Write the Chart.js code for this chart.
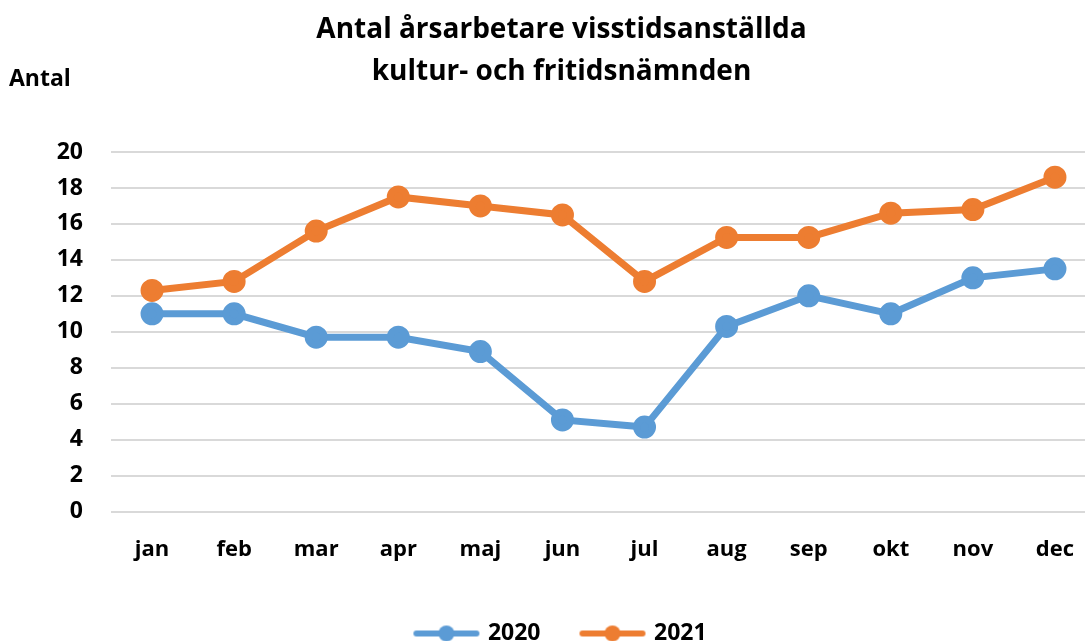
<!DOCTYPE html>
<html>
<head>
<meta charset="utf-8">
<script src="https://cdn.jsdelivr.net/npm/chart.js@4/dist/chart.umd.min.js"></script>
<style>
  html, body { margin: 0; padding: 0; background: #fff; overflow: hidden; }
</style>
</head>
<body>
<canvas id="chart" width="1111" height="641"></canvas>
<script>
const months = ["jan", "feb", "mar", "apr", "maj", "jun", "jul", "aug", "sep", "okt", "nov", "dec"];
const values2020 = [11, 11, 9.7, 9.7, 8.9, 5.1, 4.7, 10.3, 12, 11, 13, 13.5];
const values2021 = [12.3, 12.8, 15.6, 17.5, 17, 16.5, 12.8, 15.25, 15.25, 16.6, 16.8, 18.6];
const titleLines = ["Antal årsarbetare visstidsanställda", "kultur- och fritidsnämnden"];
const yLabel = "Antal";

const blue = "#5b9bd5";
const orange = "#ed7d31";
const font = "'Open Sans', 'Liberation Sans', sans-serif";

// legend symbol: a line with a dot in the middle
function legendIcon(color) {
    const c = document.createElement("canvas");
    c.width = 68; c.height = 18;
    const g = c.getContext("2d");
    g.strokeStyle = color; g.lineWidth = 6; g.lineCap = "round";
    g.beginPath(); g.moveTo(4, 9); g.lineTo(64, 9); g.stroke();
    g.fillStyle = color;
    g.beginPath(); g.arc(34, 9, 8, 0, Math.PI * 2); g.fill();
    return c;
}
const icons = [legendIcon(blue), legendIcon(orange)];

const axisLabel = {
    id: "axisLabel",
    afterDraw(chart) {
        const ctx = chart.ctx;
        ctx.save();
        ctx.font = "bold 23px " + font;
        ctx.fillStyle = "#000";
        ctx.textBaseline = "middle";
        ctx.fillText(yLabel, 9, 79);
        ctx.restore();
    }
};

new Chart(document.getElementById("chart"), {
    type: "line",
    data: {
        labels: months,
        datasets: [
            { label: "2020", data: values2020, borderColor: blue, backgroundColor: blue,
              borderWidth: 7, pointRadius: 8, pointHoverRadius: 8 },
            { label: "2021", data: values2021, borderColor: orange, backgroundColor: orange,
              borderWidth: 7, pointRadius: 8, pointHoverRadius: 8 }
        ]
    },
    options: {
        responsive: false,
        animation: false,
        layout: { padding: { left: 12, right: 0, top: 9, bottom: -14 } },
        plugins: {
            title: {
                display: true,
                text: titleLines,
                color: "#000",
                font: { family: font, size: 28, weight: "bold", lineHeight: 1.5 },
                padding: { top: 0, bottom: 59 }
            },
            legend: {
                position: "bottom",
                labels: {
                    usePointStyle: true,
                    pointStyleWidth: 60,
                    boxHeight: 18,
                    color: "#000",
                    font: { family: font, size: 23, weight: "bold" },
                    padding: 42,
                    generateLabels(chart) {
                        const items = Chart.defaults.plugins.legend.labels.generateLabels(chart);
                        items.forEach((it, i) => { it.pointStyle = icons[i]; });
                        return items;
                    }
                }
            },
            tooltip: { enabled: false }
        },
        scales: {
            x: {
                offset: true,
                grid: { display: false },
                border: { display: false },
                ticks: { color: "#000", font: { family: font, size: 22, weight: "bold" }, padding: 17 }
            },
            y: {
                min: 0, max: 20,
                afterFit(scale) { scale.width = 99; },
                grid: { color: "#d9d9d9", lineWidth: 2, drawTicks: false },
                border: { display: false },
                ticks: { stepSize: 2, color: "#000", font: { family: font, size: 23, weight: "bold" }, padding: 28 }
            }
        }
    },
    plugins: [axisLabel]
});
</script>
</body>
</html>
